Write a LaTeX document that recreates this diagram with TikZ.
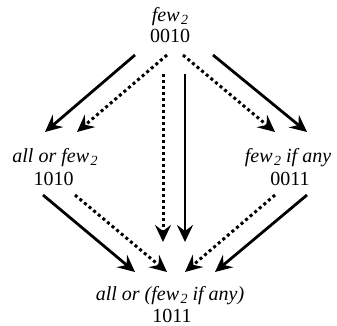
\documentclass[tikz,border=0pt]{standalone}
\usepackage{fontspec}
\setmainfont{Liberation Serif}
\usetikzlibrary{arrows.meta}
\newcommand\subtwo{\hspace{1.5pt}\raisebox{-3pt}[0pt][0pt]{\fontsize{14}{14}\selectfont 2}}
\tikzset{
  lbl/.style={anchor=base, inner sep=0pt, font=\fontsize{20}{20}\selectfont\itshape},
  code/.style={anchor=base, inner sep=0pt, font=\fontsize{20}{20}\selectfont},
  solidarrow/.style={line width=2.8pt, -{Stealth[length=17pt,width=16pt,inset=6pt]}},
  dotarrow/.style={line width=3pt, dash pattern=on 3pt off 3pt,
    -{Stealth[length=17pt,width=16pt,inset=6pt]}},
}
\begin{document}
\begin{tikzpicture}[x=1pt,y=-1pt]
\useasboundingbox (0,0) rectangle (337,326);
\node[lbl]  (tw) at (170,21.5)  {few\subtwo};
\node[code] (tc) at (170,43)  {0010};
\node[lbl]  (lw) at (55,162)  {all or few\subtwo};
\node[code] (lc) at (53.5,185) {1010};
\node[lbl]  (rw) at (288,162) {few\subtwo{} if any};
\node[code] (rc) at (290,185) {0011};
\node[lbl]  (bw) at (170,300) {all or (few\subtwo{} if any)};
\node[code] (bc) at (172,322) {1011};
% top -> left
\draw[solidarrow] ([shift={(-35,12)}]tc.base) -- ([shift={(-10,-30)}]lw.base);
\draw[dotarrow]   ([shift={(-3,12)}]tc.base)  -- ([shift={(22,-30)}]lw.base);
% top -> bottom
\draw[dotarrow]   ([shift={(-7,31)}]tc.base)  -- ([shift={(-7,-58)}]bw.base);
\draw[solidarrow] ([shift={(15,31)}]tc.base)  -- ([shift={(15,-58)}]bw.base);
% top -> right
\draw[dotarrow]   ([shift={(13,12)}]tc.base)  -- ([shift={(-13,-30)}]rw.base);
\draw[solidarrow] ([shift={(43,12)}]tc.base)  -- ([shift={(19,-30)}]rw.base);
% left -> bottom
\draw[solidarrow] ([shift={(-10.5,10)}]lc.base) -- ([shift={(-35,-28)}]bw.base);
\draw[dotarrow]   ([shift={(21.5,10)}]lc.base)  -- ([shift={(-3,-28)}]bw.base);
% right -> bottom
\draw[dotarrow]   ([shift={(-15,10)}]rc.base) -- ([shift={(15,-28)}]bw.base);
\draw[solidarrow] ([shift={(17,10)}]rc.base)  -- ([shift={(45,-28)}]bw.base);
\end{tikzpicture}
\end{document}
